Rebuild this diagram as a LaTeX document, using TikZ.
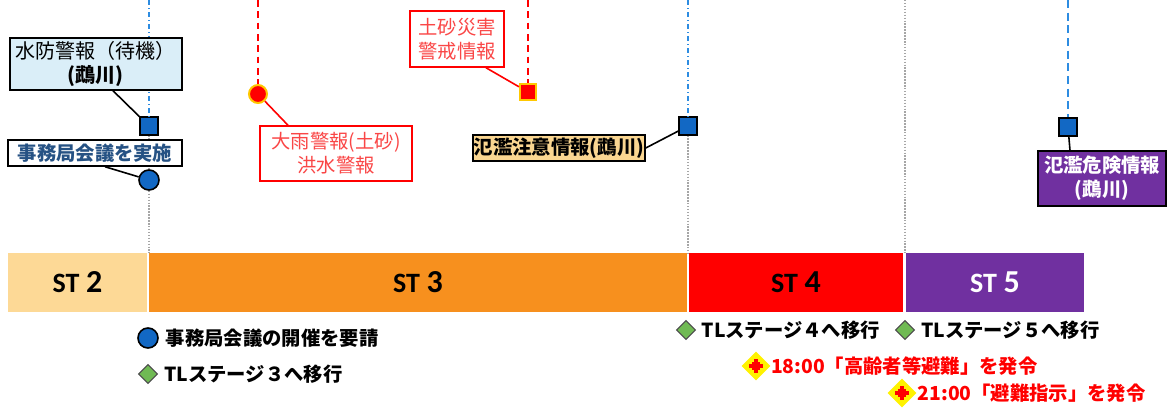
\documentclass[tikz,border=0pt]{standalone}
\usepackage{fontspec}
\usepackage{tikz}
\usetikzlibrary{shapes.geometric, positioning}
\setmainfont{Noto Sans CJK JP}
\newfontfamily\stfont{Carlito}

\definecolor{markblue}{RGB}{18,104,196}
\definecolor{lineblue}{RGB}{45,140,225}
\definecolor{lightblue}{RGB}{218,238,248}
\definecolor{navy}{RGB}{38,82,132}
\definecolor{alertred}{RGB}{255,0,0}
\definecolor{softred}{RGB}{250,70,70}
\definecolor{glow}{RGB}{255,200,0}
\definecolor{sand}{RGB}{250,214,145}
\definecolor{leaf}{RGB}{112,186,84}
\definecolor{stTwo}{RGB}{253,217,150}
\definecolor{stThree}{RGB}{247,144,30}
\definecolor{stFour}{RGB}{255,0,0}
\definecolor{stFive}{RGB}{112,48,160}

\newcommand\stlabel[1]{{\fontsize{21}{21}\selectfont ST}\hspace{5pt}{\fontsize{24}{24}\selectfont #1}}

\tikzset{
  x=0.75pt, y=-0.75pt, % one unit is one pixel of the screenshot
  every node/.style={font=\fontsize{14.5}{18}\selectfont},
  heavy/.style={font=\fontsize{14.5}{18}\selectfont\bfseries},
  wh/.style 2 args={minimum width=#1*0.75pt, minimum height=#2*0.75pt}, % box size in pixels
  infobox/.style={draw, line width=1.1pt, align=center, inner sep=0pt}, % the warning boxes
  redbox/.style={infobox, draw=alertred, text=softred, fill=white},
  stage/.style={inner sep=0pt, font=\stfont\bfseries}, % one block of the stage bar
  bsq/.style={rectangle, draw=black, line width=1.2pt, fill=markblue, minimum size=17.5*0.75pt, inner sep=0pt},
  bdot/.style={circle, draw=black, line width=1.2pt, fill=markblue, minimum size=20*0.75pt, inner sep=0pt},
  rdot/.style={circle, draw=glow, line width=1.5pt, fill=alertred, minimum size=18*0.75pt, inner sep=0pt},
  rsq/.style={rectangle, draw=glow, line width=1.5pt, fill=alertred, minimum size=16*0.75pt, inner sep=0pt},
  gem/.style={diamond, draw=black!70, line width=0.8pt, fill=leaf, minimum size=19*0.75pt, inner sep=0pt}, % stage change mark
  evac/.style={diamond, fill=yellow, minimum size=29*0.75pt, inner sep=0pt, % evacuation order mark
    path picture={
      \fill[red] ([xshift=-1.6pt,yshift=-5.6pt]path picture bounding box.center) rectangle ++(3.2pt,11.2pt);
      \fill[red] ([xshift=-5.6pt,yshift=-1.6pt]path picture bounding box.center) rectangle ++(11.2pt,3.2pt);
      \fill[red] ([xshift=-2.9pt,yshift=-2.9pt]path picture bounding box.center) rectangle ++(5.8pt,5.8pt);
    }},
  legend/.style={anchor=west, inner sep=0pt, heavy},
  lead/.style={line width=1.2pt}, % line from a box to its mark
  guide/.style={gray!70, line width=1.3pt, dash pattern=on 1.1pt off 1.1pt},
  bluedash/.style={lineblue, line width=1.6pt, dash pattern=on 6pt off 3.5pt},
  bluedashdot/.style={lineblue, line width=1.4pt, dash pattern=on 4pt off 2pt on 1pt off 2pt},
  reddash/.style={alertred, line width=1.5pt, dash pattern=on 5pt off 3.5pt},
}

\begin{document}
\begin{tikzpicture}
  \useasboundingbox (0,0) rectangle (1168,408);

  % stage bar
  \node[stage, wh={139}{59}, fill=stTwo] (st2) at (77.5,282.5) {\stlabel{2}};
  \node[stage, wh={538}{59}, fill=stThree] (st3) at (418,282.5) {\stlabel{3}};
  \node[stage, wh={214}{59}, fill=stFour] (st4) at (796,282.5) {\stlabel{4}};
  \node[stage, wh={178}{59}, fill=stFive, text=white] (st5) at (995,282.5) {\stlabel{5}};

  % marks on the time lines
  \node[bsq] (wsq) at (149,126) {};
  \node[bdot] (mdot) at (149,180) {};
  \node[rdot] (rdot) at (258,94) {};
  \node[rsq] (ssq) at (528,92) {};
  \node[bsq] (csq) at (688,126) {};
  \node[bsq] (dsq) at (1068,127) {};

  % ends of the time lines
  \coordinate (t1) at (149,0);
  \coordinate (t2) at (258,0);
  \coordinate (t3) at (528,0);
  \coordinate (t4) at (688,0);
  \coordinate (t5) at (905,0);
  \coordinate (t6) at (1068,0);
  \coordinate (f1) at (149,253);
  \coordinate (f4) at (688,253);
  \coordinate (f5) at (905,253);

  \draw[bluedashdot] (t1) -- (wsq);
  \draw[guide] (wsq) -- (mdot);
  \draw[guide] (mdot) -- (f1);
  \draw[reddash] (t2) -- (rdot);
  \draw[reddash] (t3) -- (ssq);
  \draw[bluedashdot] (t4) -- (csq);
  \draw[guide] (csq) -- (f4);
  \draw[guide] (t5) -- (f5);
  \draw[bluedash] (t6) -- (dsq);

  % info boxes
  \node[infobox, fill=lightblue, wh={172}{52}, font=\fontsize{15}{18}\selectfont] (wbox) at (96,64) {水防警報（待機）\\\textbf{(鵡川)}};
  \node[infobox, fill=white, text=navy, heavy, wh={174}{26}] (mbox) at (95,153) {事務局会議を実施};
  \node[redbox, wh={152}{55}] (rbox) at (336,153.5) {大雨警報(土砂)\\洪水警報};
  \node[redbox, wh={94}{56}] (sbox) at (457,39) {土砂災害\\警戒情報};
  \node[infobox, fill=sand, heavy, wh={172}{26}] (cbox) at (559,148) {氾濫注意情報(鵡川)};
  \node[infobox, fill=stFive, text=white, heavy, wh={128}{55}] (dbox) at (1102,178.5) {氾濫危険情報\\(鵡川)};

  \draw[lead] ([xshift=17*0.75pt]wbox.south) -- (wsq);
  \draw[lead] ([xshift=10*0.75pt]mbox.south) -- (mdot);
  \draw[lead, alertred] (rdot) -- ([xshift=-48*0.75pt]rbox.north);
  \draw[lead, alertred] ([xshift=29*0.75pt]sbox.south) -- (ssq);
  \draw[lead] (cbox.east) -- (csq);
  \draw[lead] (dsq) -- ([xshift=-32*0.75pt]dbox.north);

  % legend under the bar
  \node[bdot] (ldot) at (148,338) {};
  \node[legend, right=5pt of ldot] (ltext) {事務局会議の開催を要請};
  \node[gem] (g3) at (148,374) {};
  \node[legend, right=4.5pt of g3] (g3text) {TLステージ３へ移行};
  \node[gem] (g4) at (686,330) {};
  \node[legend, right=4pt of g4] (g4text) {TLステージ４へ移行};
  \node[gem] (g5) at (905,330) {};
  \node[legend, right=4.5pt of g5] (g5text) {TLステージ５へ移行};
  \node[evac] (e1) at (756,366) {};
  \node[legend, text=alertred, right=0pt of e1] (e1text) {18:00「高齢者等避難」を発令};
  \node[evac] (e2) at (902,393) {};
  \node[legend, text=alertred, right=0.5pt of e2] (e2text) {21:00「避難指示」を発令};
\end{tikzpicture}
\end{document}
